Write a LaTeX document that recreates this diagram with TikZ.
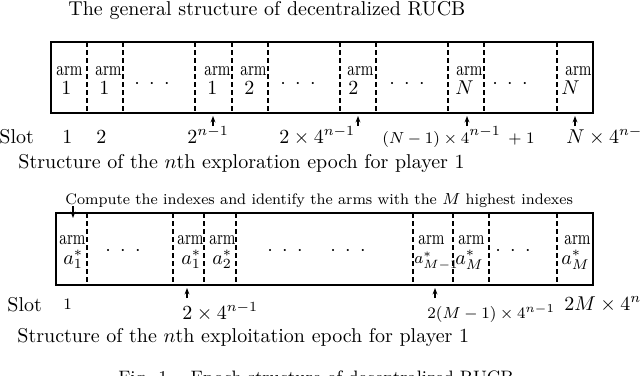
\documentclass[tikz,border=0pt]{standalone}
\usepackage{graphicx}
\usetikzlibrary{arrows.meta}
\newcommand\armw{\scalebox{0.82}[1.12]{\small arm}}
\newcommand\dotsrow{$\cdot$\hspace{4.7pt}$\cdot$\hspace{4.7pt}$\cdot$}
\begin{document}
\begin{tikzpicture}[x=0.5pt,y=-0.5pt,
  frame/.style={line width=1.1pt},
  sep/.style={line width=0.8pt, dash pattern=on 2.6pt off 1.4pt},
  armlbl/.style={inner sep=0pt, anchor=base east},
  val/.style={inner sep=0pt, anchor=base west, font=\normalsize},
  dotsn/.style={inner sep=0pt, anchor=center},
  lbl/.style={inner sep=0pt, anchor=base west},
  tick/.style={line width=0.6pt, -{Stealth[length=3.2pt,width=2.4pt]}}]
\useasboundingbox (0,0) rectangle (640,375);

% ---------- title ----------
\node[lbl] (title) at (68,15) {The general structure of decentralized RUCB};

% ---------- exploration epoch box ----------
\coordinate (tbl) at (51,42);
\coordinate (tbr) at (593,113);
\draw[frame] (tbl) rectangle (tbr);
\foreach \x in {87,123,195,232,268,340,376,448,484,557}
  \draw[sep] (\x,42) -- (\x,113);

\node[armlbl] (ta1) at (83,75) {\armw};   \node[val] (tv1) at (61,94) {$1$};
\node[armlbl] (ta2) at (122,75) {\armw};  \node[val] (tv2) at (99,94) {$1$};
\node[dotsn] (td1) at (152,84) {\dotsrow};
\node[armlbl] (ta3) at (231,75) {\armw};  \node[val] (tv3) at (207,94) {$1$};
\node[armlbl] (ta4) at (267,75) {\armw};  \node[val] (tv4) at (244,94) {$2$};
\node[dotsn] (td2) at (298,84) {\dotsrow};
\node[armlbl] (ta5) at (374,75) {\armw};  \node[val] (tv5) at (348,94) {$2$};
\node[dotsn] (td3) at (407,84) {\dotsrow};
\node[armlbl] (ta6) at (483,75) {\armw};  \node[val] (tv6) at (455,94) {$N$};
\node[dotsn] (td4) at (510,84) {\dotsrow};
\node[armlbl] (ta7) at (592,75) {\armw};  \node[val] (tv7) at (561,94) {$N$};

% arrows under the box
\foreach \x/\n in {213/a,358/b,467/c,575/d}{
  \coordinate (tt\n s) at (\x,126);
  \coordinate (tt\n e) at (\x,116);
  \draw[tick] (tt\n s) -- (tt\n e);
}

% slot labels
\node[lbl] (tslot) at (-1,143) {Slot};
\node[lbl] (ts1) at (62,143) {$1$};
\node[lbl] (ts2) at (96,143) {$2$};
\node[lbl] (ts3) at (187,143) {$2^{n-1}$};
\node[lbl] (ts4) at (279,143) {$2\times 4^{n-1}$};
\node[lbl] (ts5) at (382,143) {{\footnotesize$(N-1)\times 4$}$^{n-1}${\footnotesize$\;\,+\;1$}};
\node[lbl] (ts6) at (566,143) {$N\times 4^{n-1}$};

\node[lbl] (tcap) at (18,168) {Structure of the $n$th exploration epoch for player 1};

% ---------- exploitation epoch box ----------
\node[lbl, font=\fontsize{7.6}{9}\selectfont] (compute) at (65,204) {Compute the indexes and identify the arms with the $M$ highest indexes};
\coordinate (cs) at (73,206);
\coordinate (ce) at (73,218);
\draw[tick] (cs) -- (ce);

\coordinate (bbl) at (56,213);
\coordinate (bbr) at (593,285);
\draw[frame] (bbl) rectangle (bbr);
\foreach \x in {87,173,204,236,413,453,489,557}
  \draw[sep] (\x,213) -- (\x,285);

\node[armlbl] (ba1) at (86,244) {\armw};  \node[val] (bv1) at (63,264) {$a^*_1$};
\node[dotsn] (bd1) at (123,251) {\dotsrow};
\node[armlbl] (ba2) at (204,244) {\armw}; \node[val] (bv2) at (181,264) {$a^*_1$};
\node[armlbl] (ba3) at (236,244) {\armw}; \node[val] (bv3) at (212,264) {$a^*_2$};
\node[dotsn] (bd2) at (285,251) {\dotsrow};
\node[dotsn] (bd3) at (348,251) {\dotsrow};
\node[armlbl] (ba4) at (445,244) {\armw}; \node[val, font=\footnotesize] (bv4) at (414,263) {$a^*_{M-1}$};
\node[armlbl] (ba5) at (485,244) {\armw}; \node[val] (bv5) at (455,264) {$a^*_M$};
\node[dotsn] (bd4) at (513,251) {\dotsrow};
\node[armlbl] (ba6) at (591,244) {\armw}; \node[val] (bv6) at (561,264) {$a^*_M$};

\foreach \x/\n in {187/a,435/b}{
  \coordinate (bt\n s) at (\x,298);
  \coordinate (bt\n e) at (\x,288);
  \draw[tick] (bt\n s) -- (bt\n e);
}

\node[lbl] (bslot) at (7,311) {Slot};
\node[lbl, font=\footnotesize] (bs1) at (63,309) {$1$};
\node[lbl] (bs2) at (182,319) {$2\times 4^{n-1}$};
\node[lbl, font=\footnotesize] (bs3) at (427,318) {$2(M-1)\times 4^{n-1}$};
\node[lbl] (bs4) at (564,310) {$2M\times 4^{n-1}$};

\node[lbl] (bcap) at (17,342) {Structure of the $n$th exploitation epoch for player 1};

% ---------- figure caption (cut by the page edge) ----------
\node[lbl, font=\small] (figcap) at (118,383) {Fig. 1.\quad Epoch structure of decentralized RUCB};
\end{tikzpicture}
\end{document}
